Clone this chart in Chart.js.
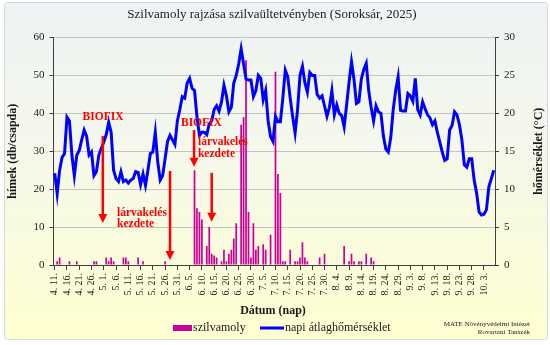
<!DOCTYPE html>
<html>
<head>
<meta charset="utf-8">
<script src="https://cdn.jsdelivr.net/npm/chart.js@4.4.1/dist/chart.umd.min.js"></script>
<style>
  html, body { margin: 0; padding: 0; background: #fff; }
</style>
</head>
<body>
<canvas id="chart" width="550" height="345"></canvas>
<script>
// Daily data, 2025.04.11 - 2025.10.07
const startDate = new Date(2025, 3, 11)
const dayCount = 180

const dayLabels = []
for (let i = 0; i < dayCount; i++) {
  const d = new Date(startDate.getFullYear(), startDate.getMonth(), startDate.getDate() + i)
  dayLabels.push((d.getMonth() + 1) + ". " + d.getDate() + ".")
}

// szilvamoly (himek / csapda)
const mothCounts = [
  0, 1, 2, 0, 0, 0, 1, 0, 0, 1,
  0, 0, 0, 0, 0, 0, 1, 1, 0, 0,
  0, 2, 1, 2, 1, 0, 0, 0, 2, 2,
  1, 0, 0, 0, 2, 0, 1, 0, 0, 0,
  0, 0, 0, 0, 0, 1, 0, 0, 0, 0,
  0, 0, 0, 0, 0, 0, 0, 25, 15, 14,
  12, 0, 5, 10, 3, 2.5, 2, 0, 1, 4,
  1, 3, 4, 7, 11, 0, 37, 39, 54, 14,
  2, 11, 4, 5, 0, 5.5, 4, 0, 8, 0,
  51, 24, 19, 1, 1, 0, 4, 0, 1, 1,
  2, 6, 2, 1, 0, 0, 0, 0, 2, 0,
  3, 0, 0, 0, 0, 0, 0, 0, 5, 0,
  1, 3, 1, 0, 1, 1, 0, 3, 0, 2,
  1, 0, 0, 0, 0, 0, 0, 0, 0, 0,
  0, 0, 0, 0, 0, 0, 0, 0, 0, 0,
  0, 0, 0, 0, 0, 0, 0, 0, 0, 0,
  0, 0, 0, 0, 0, 0, 0, 0, 0, 0,
  0, 0, 0, 0, 0, 0, 0, 0, 0, 0
]

// napi atlaghomerseklet (°C)
const dailyTemp = [
  12.1, 9.4, 12.5, 14.2, 14.7, 19.5, 19.0, 14.5, 11.8, 14.5,
  15.1, 16.5, 17.8, 17.0, 14.5, 14.9, 11.8, 12.3, 14.5, 15.4,
  16.2, 17.2, 18.8, 17.5, 12.5, 11.4, 11.0, 12.3, 11.0, 11.2,
  10.8, 11.2, 11.4, 12.3, 12.2, 10.6, 12.0, 10.5, 12.5, 14.7,
  14.9, 17.5, 13.6, 11.2, 11.8, 14.0, 16.3, 17.1, 16.5, 15.9,
  19.0, 20.5, 22.2, 22.0, 24.0, 24.6, 23.3, 23.0, 19.5, 17.1,
  17.5, 17.5, 17.2, 18.6, 19.0, 20.5, 21.0, 20.3, 21.5, 23.7,
  22.3, 20.2, 20.8, 24.0, 25.0, 26.5, 28.5, 26.5, 24.5, 24.4,
  24.4, 22.2, 23.0, 25.0, 24.6, 21.8, 23.0, 19.0, 16.9, 16.3,
  19.6, 18.9, 18.9, 22.0, 25.7, 24.8, 22.0, 19.6, 17.4, 20.5,
  25.0, 26.2, 24.0, 22.8, 25.4, 25.0, 25.0, 22.5, 22.0, 22.3,
  21.0, 19.6, 20.8, 23.0, 19.8, 21.1, 20.0, 19.7, 18.2, 21.1,
  24.1, 26.8, 24.5, 21.3, 21.5, 24.5, 25.8, 26.6, 23.0, 20.8,
  19.0, 21.0, 20.2, 20.0, 17.0, 15.3, 14.9, 16.8, 20.5, 23.0,
  24.8, 20.4, 20.3, 20.3, 22.6, 22.3, 21.6, 24.6, 20.5, 19.8,
  21.5, 20.6, 19.8, 19.4, 18.5, 19.0, 17.5, 16.2, 14.9, 13.8,
  14.0, 17.8, 18.4, 20.2, 19.8, 18.5, 16.5, 13.2, 12.9, 14.0,
  14.0, 11.2, 9.5, 7.0, 6.6, 6.7, 7.3, 10.3, 11.4, 12.5
]

const leftTicks = [0, 10, 20, 30, 40, 50, 60]
const rightTicks = [0, 5, 10, 15, 20, 25, 30]

// annotations, anchored in data units (day index, himek)
const noteTexts = [
  { lines: ["BIOFIX"], day: 19.7, val: 39.0, align: "center" },
  { lines: ["lárvakelés", "kezdete"], day: 25.4, val: 13.8, align: "left" },
  { lines: ["BIOFIX"], day: 59.8, val: 37.5, align: "center" },
  { lines: ["lárvakelés", "kezdete"], day: 58.4, val: 32.4, align: "left" }
]
const noteArrows = [
  { day: 19.6, from: 34.0, to: 11.1 },
  { day: 47.0, from: 24.8, to: 1.3 },
  { day: 56.8, from: 35.6, to: 25.9 },
  { day: 64.0, from: 24.3, to: 11.4 }
]

const serif = "'Liberation Serif', 'DejaVu Serif', serif"
const magenta = "#CC0099"
const blue = "#0000FF"
const red = "#FF0000"
const ink = "#1a1a1a"

const decorPlugin = {
  id: "decor",
  beforeDraw(chart) {
    const ctx = chart.ctx
    ctx.save()
    const g = ctx.createLinearGradient(0, 2, 0, 340)
    g.addColorStop(0, "#EDF3F5")
    g.addColorStop(0.45, "#F5F8EA")
    g.addColorStop(1, "#FFFFD0")
    ctx.fillStyle = g
    ctx.beginPath()
    ctx.roundRect(4.5, 2.5, 543, 337, 3)
    ctx.fill()
    ctx.strokeStyle = "#D6D6D6"
    ctx.lineWidth = 1
    ctx.stroke()
    ctx.restore()
  },
  afterDraw(chart) {
    const ctx = chart.ctx
    const x = chart.scales.x
    const y = chart.scales.y
    const area = chart.chartArea
    ctx.save()

    // title
    ctx.fillStyle = "#222"
    ctx.font = "13px " + serif
    ctx.textAlign = "center"
    ctx.textBaseline = "middle"
    ctx.fillText("Szilvamoly rajzása szilvaültetvényben (Soroksár, 2025)", 272, 15)

    // axis titles
    ctx.fillStyle = ink
    ctx.font = "bold 12px " + serif
    ctx.save()
    ctx.translate(13, (area.top + area.bottom) / 2)
    ctx.rotate(-Math.PI / 2)
    ctx.fillText("hímek (db/csapda)", 0, 0)
    ctx.restore()
    ctx.save()
    ctx.translate(539, (area.top + area.bottom) / 2)
    ctx.rotate(-Math.PI / 2)
    ctx.fillText("hőmérséklet (°C)", 0, 0)
    ctx.restore()
    ctx.fillText("Dátum (nap)", 273, 311)

    // annotations
    ctx.fillStyle = red
    ctx.font = "bold 11.5px " + serif
    noteTexts.forEach((n) => {
      ctx.textAlign = n.align
      const px = x.getPixelForValue(n.day)
      let py = y.getPixelForValue(n.val)
      n.lines.forEach((line) => {
        ctx.fillText(line, px, py)
        py += 11.6
      })
    })
    ctx.strokeStyle = red
    ctx.lineWidth = 2.5
    noteArrows.forEach((a) => {
      const px = x.getPixelForValue(a.day)
      const y0 = y.getPixelForValue(a.from)
      const y1 = y.getPixelForValue(a.to)
      ctx.beginPath()
      ctx.moveTo(px, y0)
      ctx.lineTo(px, y1 - 8)
      ctx.stroke()
      ctx.beginPath()
      ctx.moveTo(px - 4.5, y1 - 9)
      ctx.lineTo(px + 4.5, y1 - 9)
      ctx.lineTo(px, y1)
      ctx.closePath()
      ctx.fill()
    })

    // legend
    ctx.textAlign = "left"
    ctx.fillStyle = magenta
    ctx.fillRect(173, 325, 19, 6)
    ctx.fillStyle = ink
    ctx.font = "12px " + serif
    ctx.fillText("szilvamoly", 193, 328)
    ctx.strokeStyle = blue
    ctx.lineWidth = 3
    ctx.beginPath()
    ctx.moveTo(260, 328)
    ctx.lineTo(284, 328)
    ctx.stroke()
    ctx.fillText("napi átlaghőmérséklet", 285, 328)

    // credit
    ctx.textAlign = "right"
    ctx.font = "7px " + serif
    ctx.fillText("MATE Növényvédelmi Intézet", 530, 324)
    ctx.fillText("Rovartani Tanszék", 530, 332.5)
    ctx.restore()
  }
}

const tickFont = { family: serif, size: 11 }

new Chart(document.getElementById("chart"), {
  type: "bar",
  data: {
    labels: dayLabels,
    datasets: [
      {
        type: "line",
        label: "napi átlaghőmérséklet",
        data: dailyTemp,
        yAxisID: "y2",
        borderColor: blue,
        borderWidth: 3,
        pointRadius: 0,
        tension: 0,
        order: 0
      },
      {
        type: "bar",
        label: "szilvamoly",
        data: mothCounts,
        yAxisID: "y",
        backgroundColor: magenta,
        barPercentage: 0.7,
        categoryPercentage: 1,
        order: 1
      }
    ]
  },
  options: {
    responsive: false,
    animation: false,
    layout: { padding: { top: 37.5, left: 0, right: 0, bottom: 0 } },
    plugins: {
      legend: { display: false },
      title: { display: false },
      tooltip: { enabled: false }
    },
    scales: {
      x: {
        offset: true,
        grid: {
          display: true,
          drawOnChartArea: false,
          offset: false,
          tickLength: 5,
          tickColor: (c) => (c.index % 5 === 0 ? "#404040" : "rgba(0,0,0,0)")
        },
        border: { color: "#404040", width: 1 },
        ticks: {
          autoSkip: false,
          minRotation: 90,
          maxRotation: 90,
          padding: 3,
          color: ink,
          font: { family: serif, size: 10 },
          callback: (v, i) => (i % 5 === 0 ? dayLabels[i] : "")
        },
        afterFit: (s) => { s.height = 80 }
      },
      y: {
        position: "left",
        min: leftTicks[0],
        max: leftTicks[leftTicks.length - 1],
        afterBuildTicks: (s) => { s.ticks = leftTicks.map((v) => ({ value: v })) },
        ticks: { color: ink, font: tickFont, padding: 5 },
        grid: { color: "#C4C4C4", tickLength: 4, tickColor: "#404040" },
        border: { color: "#404040", width: 1 },
        afterFit: (s) => { s.width = 53.5 }
      },
      y2: {
        position: "right",
        min: rightTicks[0],
        max: rightTicks[rightTicks.length - 1],
        afterBuildTicks: (s) => { s.ticks = rightTicks.map((v) => ({ value: v })) },
        ticks: { color: ink, font: tickFont, padding: 5 },
        grid: { drawOnChartArea: false, tickLength: 4, tickColor: "#404040" },
        border: { color: "#404040", width: 1 },
        afterFit: (s) => { s.width = 55 }
      }
    }
  },
  plugins: [decorPlugin]
})
</script>
</body>
</html>
